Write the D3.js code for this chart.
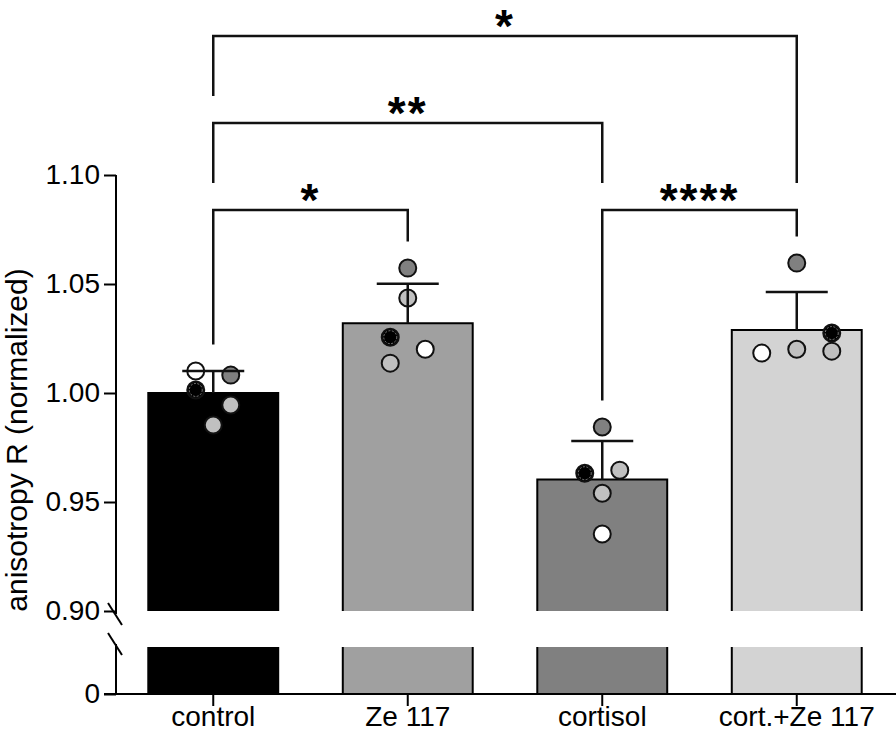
<!DOCTYPE html>
<html>
<head>
<meta charset="utf-8">
<script src="https://cdn.jsdelivr.net/npm/d3@7/dist/d3.min.js"></script>
<style>
  html, body { margin: 0; padding: 0; background: #fff; }
  svg { display: block; font-family: "Liberation Sans", Arial, sans-serif; }
</style>
</head>
<body>
<svg id="chart" width="896" height="748"></svg>
<script>
// ---------------- data ----------------
const categories = ["control", "Ze 117", "cortisol", "cort.+Ze 117"];
const means = [1.000, 1.032, 0.9603, 1.0289];
const sdUpper = [0.0101, 0.0181, 0.0177, 0.0174];
const barColors = ["#000000", "#a0a0a0", "#808080", "#d3d3d3"];
const pointValues = [
  [1.0101, 1.0014, 1.0082, 0.9945, 0.9853],
  [1.0573, 1.0436, 1.0256, 1.0201, 1.0137],
  [0.9844, 0.9632, 0.9646, 0.9540, 0.9353],
  [1.0596, 1.0275, 1.0183, 1.0201, 1.0192]
];
const pointColors = [
  ["#ffffff", "#000000", "#808080", "#c0c0c0", "#c0c0c0"],
  ["#808080", "#c0c0c0", "#000000", "#ffffff", "#c0c0c0"],
  ["#808080", "#000000", "#c0c0c0", "#c0c0c0", "#ffffff"],
  ["#808080", "#000000", "#ffffff", "#c0c0c0", "#c0c0c0"]
];
const pointColumns = [
  [-1, -1, 1, 1, 0],
  [0, 0, -1, 1, -1],
  [0, -1, 1, 0, 0],
  [0, 2, -2, 0, 2]
];
const yTicksUpper = [0.90, 0.95, 1.00, 1.05, 1.10];
const yTicksLower = [0];
const yTitle = "anisotropy R (normalized)";
const comparisons = [
  { a: 0, b: 1, label: "*", level: 0 },
  { a: 2, b: 3, label: "****", level: 0 },
  { a: 0, b: 2, label: "**", level: 1 },
  { a: 0, b: 3, label: "*", level: 2 }
];

// ---------------- layout ----------------
const svg = d3.select("#chart");
const axisX = 116;
const x = d3.scaleBand().domain(categories).range([axisX, 894]).padding(0);
const barW = x.bandwidth() * 0.668;
const colUnit = x.bandwidth() * 0.09;
const cx = c => x(c) + x.bandwidth() / 2;

const yU = d3.scaleLinear().domain([0.90, 1.10]).range([611, 175]);
const yL = d3.scaleLinear().domain([0, 0.90]).range([694, 647]);
const r = 8.5;
const FONT = "'Liberation Sans', Arial, sans-serif";

// bars
const gBars = svg.append("g");
categories.forEach((c, i) => {
  const x0 = cx(c) - barW / 2, x1 = cx(c) + barW / 2;
  const yt = yU(means[i]), yb = yU(0.90);
  gBars.append("rect").attr("x", x0).attr("y", yt).attr("width", barW).attr("height", yb - yt)
    .attr("fill", barColors[i]);
  gBars.append("path").attr("d", `M${x0},${yb}V${yt}H${x1}V${yb}`)
    .attr("fill", "none").attr("stroke", "#000").attr("stroke-width", 2);
  const lt = yL(0.90), lb = yL(0);
  gBars.append("rect").attr("x", x0).attr("y", lt).attr("width", barW).attr("height", lb - lt)
    .attr("fill", barColors[i]);
  gBars.append("path").attr("d", `M${x0},${lb}V${lt}M${x1},${lt}V${lb}`)
    .attr("fill", "none").attr("stroke", "#000").attr("stroke-width", 2);
});

// points
const gPts = svg.append("g");
categories.forEach((c, i) => {
  pointValues[i].forEach((v, j) => {
    const px = cx(c) + pointColumns[i][j] * colUnit;
    const py = yU(v);
    gPts.append("circle").attr("cx", px).attr("cy", py).attr("r", r)
      .attr("fill", pointColors[i][j]).attr("stroke", "#111").attr("stroke-width", 2);
    if (pointColors[i][j] === "#000000") {
      gPts.append("circle").attr("cx", px).attr("cy", py).attr("r", r - 2)
        .attr("fill", "none").attr("stroke", "#9a9a9a").attr("stroke-width", 0.8)
        .attr("stroke-dasharray", "2,1.5");
    }
  });
});

// error bars (upper only)
const gErr = svg.append("g").attr("stroke", "#111").attr("stroke-width", 2.5).attr("fill", "none");
categories.forEach((c, i) => {
  const top = yU(means[i] + sdUpper[i]);
  gErr.append("line").attr("x1", cx(c)).attr("x2", cx(c)).attr("y1", yU(means[i])).attr("y2", top);
  gErr.append("line").attr("x1", cx(c) - 31).attr("x2", cx(c) + 31).attr("y1", top).attr("y2", top);
});

// y axis upper
const axU = svg.append("g").attr("transform", `translate(${axisX},0)`)
  .call(d3.axisLeft(yU).tickValues(yTicksUpper).tickFormat(d3.format(".2f")).tickSize(12).tickPadding(4));
axU.select(".domain").remove();
axU.append("line").attr("x1", 0).attr("x2", 0).attr("y1", yU(1.10)).attr("y2", 614)
  .attr("stroke", "#000").attr("stroke-width", 2);
// y axis lower
const axL = svg.append("g").attr("transform", `translate(${axisX},0)`)
  .call(d3.axisLeft(yL).tickValues(yTicksLower).tickFormat(d3.format("d")).tickSize(12).tickPadding(4));
axL.select(".domain").remove();
axL.append("line").attr("x1", 0).attr("x2", 0).attr("y1", 644).attr("y2", yL(0))
  .attr("stroke", "#000").attr("stroke-width", 2);
[axU, axL].forEach(a => {
  a.selectAll(".tick line").attr("stroke", "#000").attr("stroke-width", 2);
  a.selectAll(".tick text").attr("font-size", 28).attr("fill", "#000").attr("font-family", FONT);
});
// break marks
[614, 644].forEach(yy => {
  svg.append("line").attr("x1", axisX - 8).attr("x2", axisX + 6).attr("y1", yy - 11).attr("y2", yy + 11)
    .attr("stroke", "#000").attr("stroke-width", 2);
});

// x axis
const axX = svg.append("g").attr("transform", `translate(0,${yL(0)})`)
  .call(d3.axisBottom(x).tickSize(12).tickPadding(0));
axX.select(".domain").remove();
axX.append("line").attr("x1", 104).attr("x2", 896).attr("y1", 0).attr("y2", 0)
  .attr("stroke", "#000").attr("stroke-width", 2);
axX.selectAll(".tick line").attr("stroke", "#000").attr("stroke-width", 2);
axX.selectAll(".tick text").attr("font-size", 28).attr("fill", "#000").attr("font-family", FONT);

// y title
svg.append("text").attr("transform", `translate(27,440) rotate(-90)`)
  .attr("text-anchor", "middle").attr("font-size", 30).attr("fill", "#000").text(yTitle);

// significance brackets
const bracketY = lvl => 210 - lvl * 87;
function dataTop(i) {
  const py = d3.min(pointValues[i], v => yU(v)) - r - 1;
  return Math.min(py, yU(means[i] + sdUpper[i]));
}
function legEnd(cmp, g) {
  const below = comparisons.filter(o => o.level < cmp.level && (o.a === g || o.b === g));
  if (below.length) return bracketY(d3.max(below, o => o.level)) - 27;
  return dataTop(g) - 17;
}
const gBr = svg.append("g");
comparisons.forEach(cmp => {
  const xa = cx(categories[cmp.a]), xb = cx(categories[cmp.b]);
  const yy = bracketY(cmp.level);
  gBr.append("path").attr("d", `M${xa},${legEnd(cmp, cmp.a)}V${yy}H${xb}V${legEnd(cmp, cmp.b)}`)
    .attr("fill", "none").attr("stroke", "#111").attr("stroke-width", 2.5);
  gBr.append("text").attr("x", (xa + xb) / 2).attr("y", yy + 6)
    .attr("text-anchor", "middle").attr("font-size", 46).attr("font-weight", "bold")
    .attr("letter-spacing", 2).attr("fill", "#000").text(cmp.label);
});
</script>
</body>
</html>
